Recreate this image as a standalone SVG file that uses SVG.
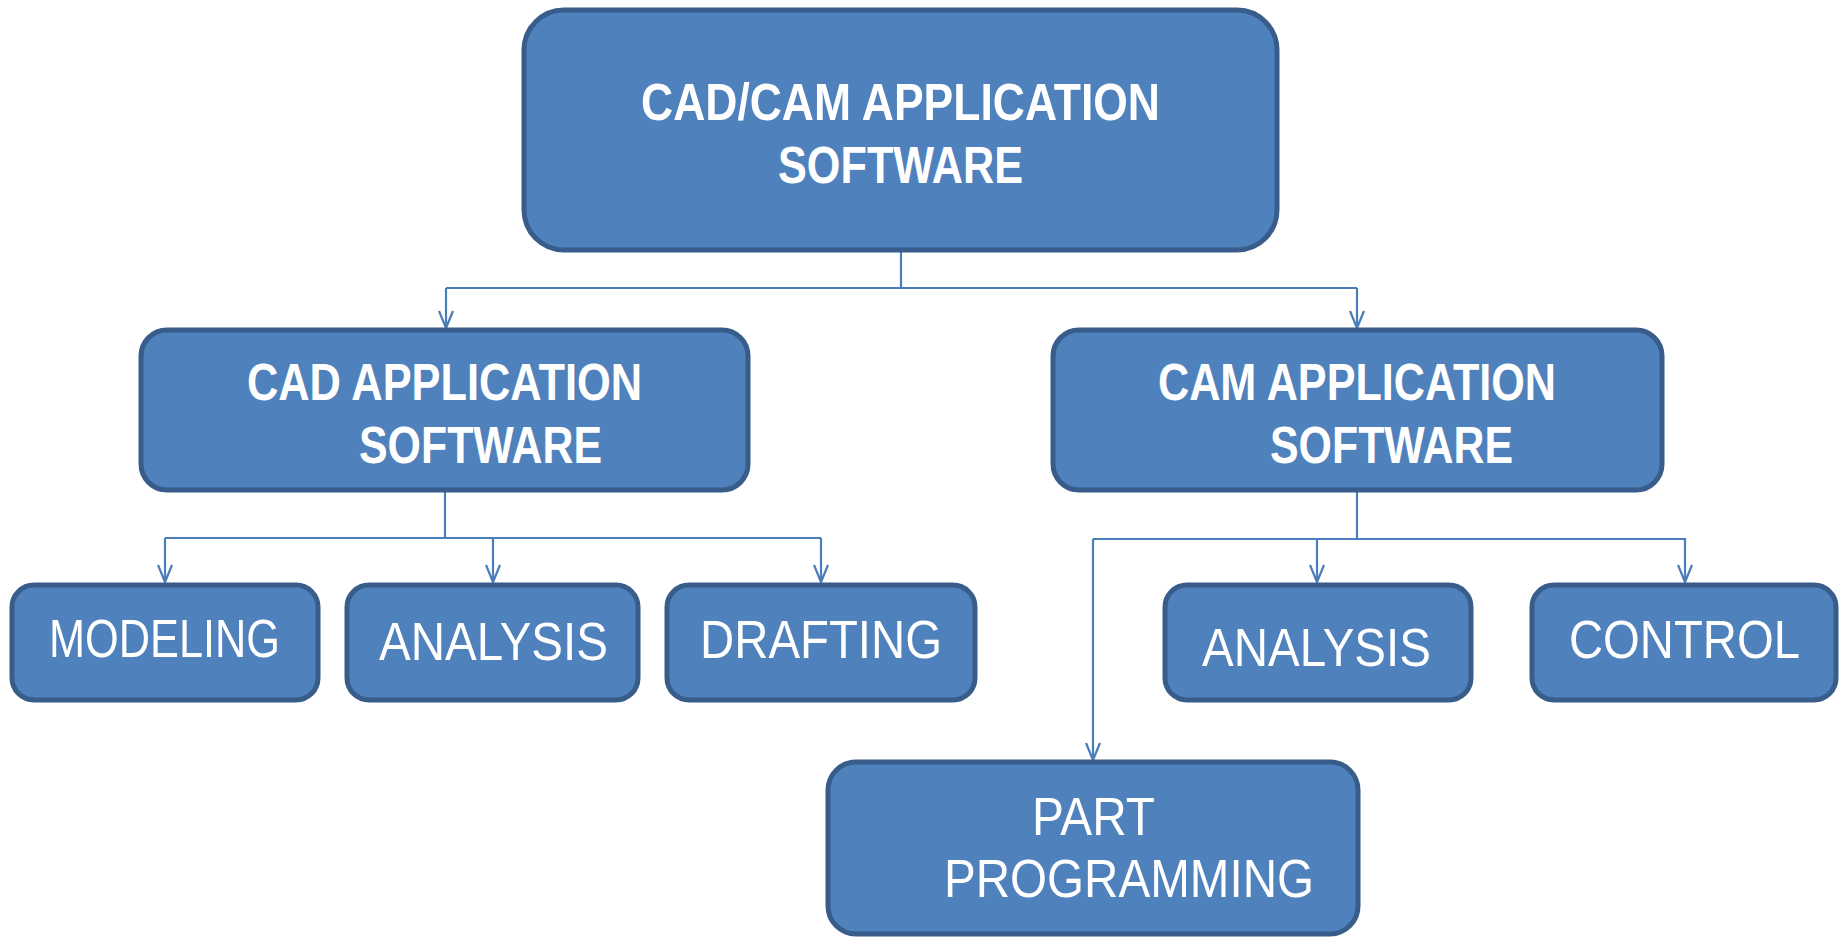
<svg xmlns="http://www.w3.org/2000/svg" width="1839" height="937" viewBox="0 0 1839 937">
<style>
.box{fill:#4f81bd;stroke:#385d8a;stroke-width:5}
.conn{fill:none;stroke:#4a7ebb;stroke-width:2.2}
.tb{font-family:"Liberation Sans",Arial,sans-serif;font-weight:bold;font-size:52px;fill:#ffffff}
.tr{font-family:"Liberation Sans",Arial,sans-serif;font-size:54px;fill:#ffffff}
</style>
<defs>
<marker id="arr" markerUnits="userSpaceOnUse" markerWidth="30" markerHeight="30" viewBox="-20 -15 30 30" refX="0" refY="0" orient="auto" overflow="visible">
<path d="M-17,-7 L0,0 L-17,7" fill="none" stroke="#4a7ebb" stroke-width="2.2"/>
</marker>
</defs>
<rect width="1839" height="937" fill="#ffffff"/>
<g id="connectors">
<path class="conn" d="M901,250 V288"/>
<path class="conn" d="M446,288 H1357"/>
<path class="conn" d="M446,288 V328" marker-end="url(#arr)"/>
<path class="conn" d="M1357,288 V328" marker-end="url(#arr)"/>
<path class="conn" d="M445,490 V538"/>
<path class="conn" d="M165,538 H821"/>
<path class="conn" d="M165,538 V582" marker-end="url(#arr)"/>
<path class="conn" d="M493,538 V582" marker-end="url(#arr)"/>
<path class="conn" d="M821,538 V582" marker-end="url(#arr)"/>
<path class="conn" d="M1357,490 V538"/>
<path class="conn" d="M1093,539 H1685"/>
<path class="conn" d="M1093,539 V760" marker-end="url(#arr)"/>
<path class="conn" d="M1317,538 V582" marker-end="url(#arr)"/>
<path class="conn" d="M1685,538 V582" marker-end="url(#arr)"/>
</g>
<g id="root">
<rect class="box" x="524" y="10" width="753" height="240" rx="40"/>
<text class="tb" x="641" y="120" textLength="519" lengthAdjust="spacingAndGlyphs">CAD/CAM  APPLICATION</text>
<text class="tb" x="778" y="183" textLength="245" lengthAdjust="spacingAndGlyphs">SOFTWARE</text>
</g>
<g id="cad">
<rect class="box" x="141" y="330" width="607" height="160" rx="26"/>
<text class="tb" x="247" y="400" textLength="395" lengthAdjust="spacingAndGlyphs">CAD APPLICATION</text>
<text class="tb" x="359" y="463" textLength="243" lengthAdjust="spacingAndGlyphs">SOFTWARE</text>
</g>
<g id="cam">
<rect class="box" x="1053" y="330" width="609" height="160" rx="26"/>
<text class="tb" x="1158" y="400" textLength="398" lengthAdjust="spacingAndGlyphs">CAM APPLICATION</text>
<text class="tb" x="1270" y="463" textLength="243" lengthAdjust="spacingAndGlyphs">SOFTWARE</text>
</g>
<g id="modeling">
<rect class="box" x="12" y="585" width="306" height="115" rx="22"/>
<text class="tr" x="49" y="657" textLength="231" lengthAdjust="spacingAndGlyphs">MODELING</text>
</g>
<g id="analysis-cad">
<rect class="box" x="347" y="585" width="291" height="115" rx="22"/>
<text class="tr" x="379" y="660" textLength="229" lengthAdjust="spacingAndGlyphs">ANALYSIS</text>
</g>
<g id="drafting">
<rect class="box" x="667" y="585" width="308" height="115" rx="22"/>
<text class="tr" x="700" y="658" textLength="242" lengthAdjust="spacingAndGlyphs">DRAFTING</text>
</g>
<g id="analysis-cam">
<rect class="box" x="1165" y="585" width="306" height="115" rx="22"/>
<text class="tr" x="1202" y="666" textLength="229" lengthAdjust="spacingAndGlyphs">ANALYSIS</text>
</g>
<g id="control">
<rect class="box" x="1532" y="585" width="304" height="115" rx="22"/>
<text class="tr" x="1569" y="658" textLength="231" lengthAdjust="spacingAndGlyphs">CONTROL</text>
</g>
<g id="part-programming">
<rect class="box" x="828" y="762" width="530" height="172" rx="28"/>
<text class="tr" x="1032" y="835" textLength="123" lengthAdjust="spacingAndGlyphs">PART</text>
<text class="tr" x="944" y="897" textLength="370" lengthAdjust="spacingAndGlyphs">PROGRAMMING</text>
</g>
</svg>
